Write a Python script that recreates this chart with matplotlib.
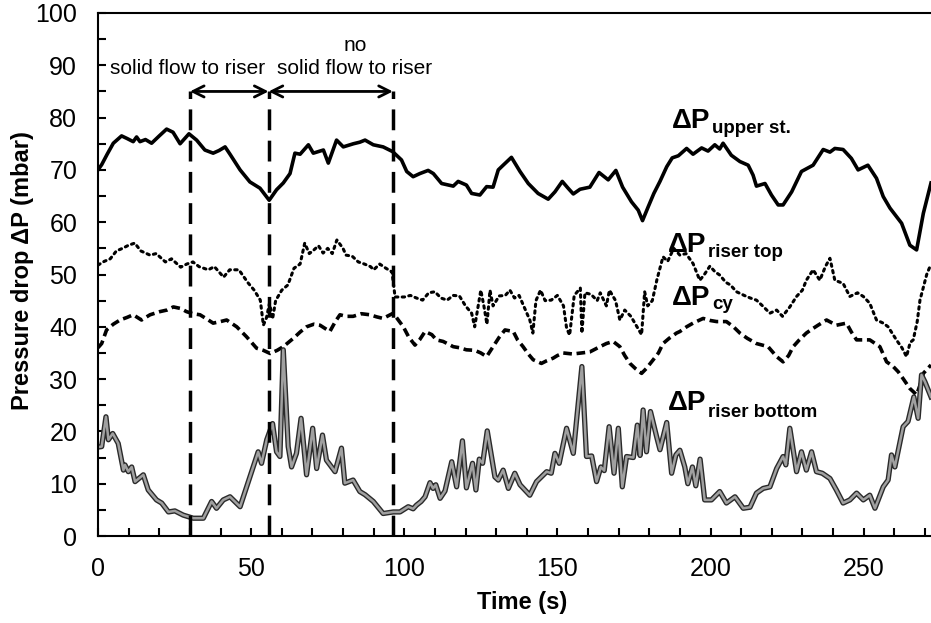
import matplotlib
matplotlib.use('Agg')
import matplotlib.pyplot as plt
import matplotlib.patheffects as pe
from matplotlib.ticker import MultipleLocator

plt.rcParams['font.family'] = ['Liberation Sans', 'DejaVu Sans']

# upper stage pressure drop (solid)
t_upper = [0, 1.2, 3, 5, 7.7, 9.5, 11.5, 12.6, 13.7, 15.5, 17.5, 20, 22.4, 24.5, 26.8, 29.7,
           32.2, 34.9, 37.6, 39.5, 41.5, 43.1, 46.4, 49.6, 52.9, 55.9, 58.3, 60.5, 62.7, 64.3,
           66, 68.7, 70.3, 73.6, 75.2, 77.9, 80.1, 83.4, 85.5, 87.2, 89.9, 93.1, 96.2, 99.1,
           100.8, 102.9, 105.1, 107.8, 109.5, 112.2, 116, 117.6, 120.3, 122, 124.7, 126.9, 129,
           130.7, 132.3, 135, 137.8, 140.5, 143.7, 147, 149.2, 151.6, 153.5, 155.2, 157.4, 160.6,
           163.6, 166.6, 169.1, 171.3, 174.2, 176.4, 177.8, 179.7, 181.5, 183.5, 185.7, 187.5,
           189.5, 192.2, 194.3, 197.1, 199.2, 201.4, 203, 204.1, 206.8, 209.6, 212.3, 213.9, 215,
           217.8, 219.9, 222.1, 223.7, 226.5, 229.7, 233.5, 236.8, 239, 240.6, 243.3, 246, 248.2,
           251.4, 254.2, 256.4, 258.6, 262.4, 265.1, 267.3, 269.5, 272]
p_upper = [70.0, 71.0, 73, 75.1, 76.5, 76, 75.4, 76.3, 75.4, 75.8, 75.1, 76.5, 77.8, 77.2, 75.0, 76.9,
           75.7, 73.8, 73.2, 73.7, 74.4, 73.0, 70.0, 67.7, 66.5, 64.2, 66.2, 67.5, 69.3, 73.2,
           73, 74.8, 73.2, 73.8, 71.3, 75.7, 74.4, 75, 75.3, 75.7, 74.8, 74.4, 73.5, 71.9,
           69.7, 68.7, 69.3, 69.9, 69.3, 67.4, 66.9, 67.8, 67.1, 65.5, 65.2, 66.8, 66.7,
           70, 70.9, 72.4, 69.7, 67.4, 65.5, 64.4, 65.8, 67.8, 66.5, 65.4, 66.3, 66.7,
           69.5, 68.1, 69.9, 66.7, 63.9, 62.3, 60.3, 63, 65.5, 67.8, 70.6, 72.3,
           72.7, 74.1, 73, 74.2, 73.6, 74.8, 74, 75.1, 72.8, 71.6, 70.9, 69, 66.9,
           67.4, 65.2, 63.3, 63.3, 65.8, 69.7, 70.9, 73.9, 73.4, 74.1, 73.9, 72.2, 70,
           70.9, 68.4, 64.9, 62.7, 59.8, 55.6, 54.7, 61.7, 67.5]

# riser top pressure drop (dotted)
t_top = [0, 2, 4, 6, 8, 10, 12, 14, 17, 19, 22, 24, 27, 29, 31, 33, 36, 38, 41, 43, 46, 49, 51, 53,
         54, 55, 56, 57, 58, 60, 62, 64, 66, 67.5, 69, 70.5, 72, 73.5, 75, 76.5, 78, 80, 81, 83,
         85, 87, 89, 90, 92, 94, 96, 97, 100, 102, 104, 106, 108, 110, 112, 114, 116, 118, 120,
         122, 123, 125, 126, 127, 128, 129, 131, 133, 134.5, 136, 137.5, 139, 141, 142, 143,
         144.5, 146, 148, 150, 152, 153, 154, 155.5, 157.5, 158, 159, 161, 163, 164, 166, 167,
         169, 170.4, 172, 174, 176, 177.5, 178.5, 179.5, 181, 182.5, 184.5, 186, 188, 190, 192,
         194.3, 196.5, 198, 199.8, 201.5, 203, 205, 206.5, 208.5, 211, 213, 215, 217, 219.4,
         221.6, 223.5, 225.9, 228.1, 230, 231.3, 233.5, 235.7, 237.5, 239, 240.6, 243.3, 245.5,
         248, 249.9, 252, 254.2, 256.4, 258, 260.7, 262.5, 264, 265.2, 266.2, 267.5, 268.4,
         270.6, 272]
p_top = [51.8, 52.5, 53, 54.5, 55, 55.6, 56, 54.5, 53.7, 54, 52.4, 53, 51.4, 52, 52.4, 51.5, 50.9,
         51.5, 49.5, 50.9, 50.9, 48.4, 47, 45.1, 40.3, 41.7, 44.5, 41.5, 45, 47, 48, 51.2, 52, 56,
         54, 54.7, 55.5, 54.1, 55, 54, 56.6, 55, 53.7, 53.5, 52.4, 52, 51.5, 50.9, 52, 51.2, 50.5,
         45.7, 45.7, 46, 45.5, 45.1, 46.5, 46.7, 45.5, 45.1, 46, 45.9, 44, 42.6, 40, 47, 44, 40.5,
         47, 44, 45.9, 46, 47, 45.5, 46, 44, 41.3, 38.8, 45, 47, 45, 45.1, 46, 44, 39.8, 38.4, 46,
         47.4, 38.8, 46.5, 46.2, 45, 46.5, 44, 47, 45, 41.3, 43.2, 42, 40, 38.5, 46.7, 44, 45, 49,
         53.4, 52.5, 55, 53.7, 54, 52.1, 48.9, 50, 51.6, 50.5, 49.9, 48.5, 48, 46.7, 46, 45.5,
         45.1, 44, 42.6, 43.2, 42, 43.8, 45.8, 47, 48.9, 50.9, 48.9, 51.5, 53.1, 48.9, 48.3,
         45.8, 46.5, 45.8, 44.5, 41.3, 40.7, 40, 37.5, 36, 34.3, 37, 37.5, 41, 45.1, 50, 52]

# cyclone pressure drop (dashed)
t_cy = [0, 1.2, 2.8, 5, 7.2, 9.5, 11.5, 14.2, 17, 20.2, 22.5, 24.6, 27, 28.9, 31, 33.3, 35.5,
        37.6, 40, 42, 45.3, 48.5, 51.8, 54, 56.2, 58.5, 60.5, 63.8, 66, 68.1, 70.5, 72.5, 75.7,
        77.5, 79, 81, 83.3, 86, 88.8, 91, 93.1, 96.4, 99.7, 101.5, 103.5, 105, 106.8, 109,
        110.5, 112.7, 116, 118, 120.3, 123, 125, 126.9, 129, 131, 132.9, 135.6, 137, 138.8,
        140.5, 142.1, 144.8, 146.5, 148.6, 150, 151.9, 155, 157.9, 160.6, 163.9, 166, 168.2,
        170.4, 172, 173.7, 175.5, 177.5, 179, 181.3, 183, 184.5, 186.5, 188.9, 190, 192.2,
        194.3, 197.6, 200, 202, 205.2, 207.5, 209.6, 212, 215, 218.8, 221.6, 223.7, 225.5,
        227, 229, 231.3, 233, 235.1, 237.9, 241.1, 244.4, 246, 247.7, 250, 252, 255.3, 257.5,
        259.5, 261.3, 263, 265.1, 267.3, 268.5, 269.5, 272]
p_cy = [36, 36.8, 39.4, 40.5, 41.3, 41.8, 42.3, 41.3, 42.3, 42.9, 43.2, 43.8, 43.5, 42.9, 42.5,
        42.3, 41.5, 40.7, 41, 41.3, 40, 38.1, 35.9, 35.5, 34.9, 35.5, 36.2, 37.8, 39, 40, 40.5,
        40.3, 39.1, 41, 42.3, 42, 42, 42.5, 42.3, 41.9, 41.6, 42.6, 40, 38, 36.5, 37.5, 39.1,
        38.5, 37.5, 37.2, 36.2, 36, 35.6, 35.5, 35, 34.3, 36.2, 38, 39.4, 39.1, 37.5, 36.2,
        34.8, 33.7, 33, 33.5, 34, 34.5, 35, 34.8, 35, 35.2, 36.2, 36.8, 37.2, 36.2, 34.5, 33,
        32, 31.1, 32, 33.7, 35, 36.8, 37.8, 38.8, 39.1, 40, 40.7, 41.6, 41.2, 41, 41, 40,
        38.8, 37.8, 36.8, 36.2, 34.3, 33.3, 34.5, 36.2, 37.5, 38.8, 39.5, 40.3, 41.3, 40.3,
        40.7, 39, 37.5, 37.5, 37.5, 36.2, 33.3, 32.5, 31.4, 30, 28.2, 27, 29, 31.1, 32.7]

# riser bottom pressure drop (grey double line)
t_bot = [0, 1.2, 2.6, 3.4, 4.8, 6.6, 8.3, 8.8, 9.9, 11, 12.1, 14.8, 16.4, 19.1, 20.8, 23, 25.1,
         27.8, 31.1, 34.4, 37.1, 38.7, 40.9, 43.1, 46.4, 49.6, 52.3, 53.4, 55.1, 57, 58.3, 59.4,
         60.5, 62.1, 63.2, 64.8, 66.3, 68.1, 70.1, 71.4, 73.3, 74.6, 77.4, 79.5, 80.6, 83.3,
         85.5, 87.2, 89.9, 93.1, 96.4, 98.6, 101.3, 102.9, 104, 105.5, 106.8, 108.4, 109.4,
         110.3, 111.7, 113.3, 115.5, 117.1, 119, 120.3, 122.3, 123.4, 124.5, 125.6, 127.1,
         129.6, 130.7, 132.3, 134, 136.1, 137.8, 141, 143.2, 146.5, 148, 149.2, 150.6, 153,
         155.2, 158, 159.5, 161.2, 162.8, 164.2, 165.3, 166.9, 168.5, 169.9, 171.2, 172.6,
         174.8, 176.1, 177, 178, 179.1, 180.4, 182.4, 183.5, 185.7, 187.3, 188.7, 190, 191.6,
         192.6, 194.1, 195.2, 196.6, 198.1, 200.3, 203, 205.2, 208, 210.7, 212.9, 215, 217.2,
         219.4, 221.6, 223.7, 224.6, 225.9, 228.1, 229.7, 231.3, 233, 234.6, 236.5, 239, 241.1,
         243.3, 245.5, 247.7, 249.9, 252, 253.7, 256.4, 258, 259.1, 260.2, 262.9, 264.5, 266.4,
         267.8, 268.9, 270, 272]
p_bot = [17, 17.1, 22.8, 18.4, 19.6, 17.7, 12.6, 13.6, 12.3, 13.2, 10.4, 11.7, 8.8, 6.9, 6.3,
         4.6, 4.8, 4, 3.4, 3.4, 6.6, 5.3, 6.9, 7.5, 5.6, 11.3, 16.1, 13.9, 18.4, 21.5, 16.1, 15.2,
         35.6, 17.1, 13.2, 15.8, 22.5, 11.7, 20.6, 12.9, 19.3, 14.5, 12.3, 16.8, 10.1, 10.7,
         8.5, 7.9, 6.6, 4.3, 4.6, 4.6, 5.6, 5.2, 5.9, 6.6, 7.5, 10.2, 9.1, 9.8, 7.2, 8.6, 14.2,
         9.4, 18.2, 9.2, 13.9, 8.8, 14.7, 13.9, 20.1, 11.3, 10.7, 12.6, 9.1, 12, 9.8, 7.8, 10.4,
         12.3, 12, 15.8, 13.9, 20.6, 15.8, 32.4, 15.2, 15.3, 10.4, 13.2, 12.5, 20.9, 12, 20.6,
         9.4, 15.2, 15, 21.2, 15.4, 24.1, 16.1, 23.8, 19, 16.5, 21.7, 12, 15.5, 16.4, 13.2, 10,
         13.2, 9.6, 14.7, 6.9, 6.9, 8.5, 6.3, 7.5, 5.3, 5.5, 8.2, 9.1, 9.4, 12.9, 15.2, 13.6,
         20.6, 12.3, 16.1, 12.6, 16.1, 12.3, 12, 11, 8.8, 6.3, 6.9, 8.2, 6.9, 7.8, 5.3, 9.4,
         10.7, 15.5, 13.2, 20.9, 21.9, 26.6, 22.5, 30.8, 29.5, 26.6]

split_times = [30, 55.7, 96.3]
arrow_level = 85

fig = plt.figure(figsize=(9.31, 6.23), dpi=100)
ax = fig.add_axes([98 / 931, 87 / 623, 833 / 931, 523 / 623])

ax.plot(t_upper, p_upper, color='black', lw=2.6, solid_joinstyle='round')
ax.plot(t_top, p_top, color='black', lw=2.2, linestyle=(0, (0.8, 1.4)), dash_capstyle='round')
ax.plot(t_cy, p_cy, color='black', lw=2.6, linestyle=(0, (2.4, 1.3)))
ax.plot(t_bot, p_bot, color='#a0a0a0', lw=1.8, solid_joinstyle='round',
        path_effects=[pe.Stroke(linewidth=3.8, foreground='#2a2a2a'), pe.Normal()])

# phase markers
for ts in split_times:
    ax.plot([ts, ts], [0, arrow_level], color='black', lw=2.5, linestyle=(0, (6, 3)))
ax.annotate('', xy=(split_times[0], arrow_level), xytext=(split_times[1], arrow_level),
            arrowprops=dict(arrowstyle='<->', lw=2, color='black', shrinkA=0, shrinkB=0,
                            mutation_scale=20))
ax.annotate('', xy=(split_times[1], arrow_level), xytext=(split_times[2], arrow_level),
            arrowprops=dict(arrowstyle='<->', lw=2, color='black', shrinkA=0, shrinkB=0,
                            mutation_scale=20))
ax.text(29.4, 89.3, 'solid flow to riser', ha='center', va='center', fontsize=15)
ax.text(83.9, 89.3, 'solid flow to riser', ha='center', va='center', fontsize=15)
ax.text(83.9, 93.8, 'no', ha='center', va='center', fontsize=15)

# series labels
labels = [(187.3, 77.95, 200.5, 77.0, 'upper st.'),
          (186.1, 54.36, 199.3, 53.4, 'riser top'),
          (187.3, 44.17, 200.5, 43.4, 'cy'),
          (186.1, 24.09, 199.3, 22.8, 'riser bottom')]
for x0, y0, x1, y1, sub in labels:
    ax.text(x0, y0, 'ΔP', fontsize=20, fontweight='bold', ha='left', va='baseline')
    ax.text(x1, y1, sub, fontsize=13.5, fontweight='bold', ha='left', va='baseline')

ax.set_xlim(0, 272)
ax.set_ylim(0, 100)
ax.xaxis.set_major_locator(MultipleLocator(50))
ax.xaxis.set_minor_locator(MultipleLocator(10))
ax.yaxis.set_major_locator(MultipleLocator(10))
ax.yaxis.set_minor_locator(MultipleLocator(5))
ax.tick_params(which='both', direction='in', length=6, width=1.5, labelsize=18)
ax.tick_params(axis='y', pad=15)
ax.tick_params(axis='x', pad=15)
ax.spines['right'].set_visible(False)
for s in ['left', 'bottom', 'top']:
    ax.spines[s].set_linewidth(1.5)

fig.text(522 / 931, 1 - 603 / 623, 'Time (s)', ha='center', va='center',
         fontsize=17, fontweight='bold')
fig.text(23 / 931, 1 - 271 / 623, 'Pressure drop ΔP (mbar)', ha='center', va='center',
         rotation=90, fontsize=17, fontweight='bold')

fig.savefig('out.png', dpi=100)
